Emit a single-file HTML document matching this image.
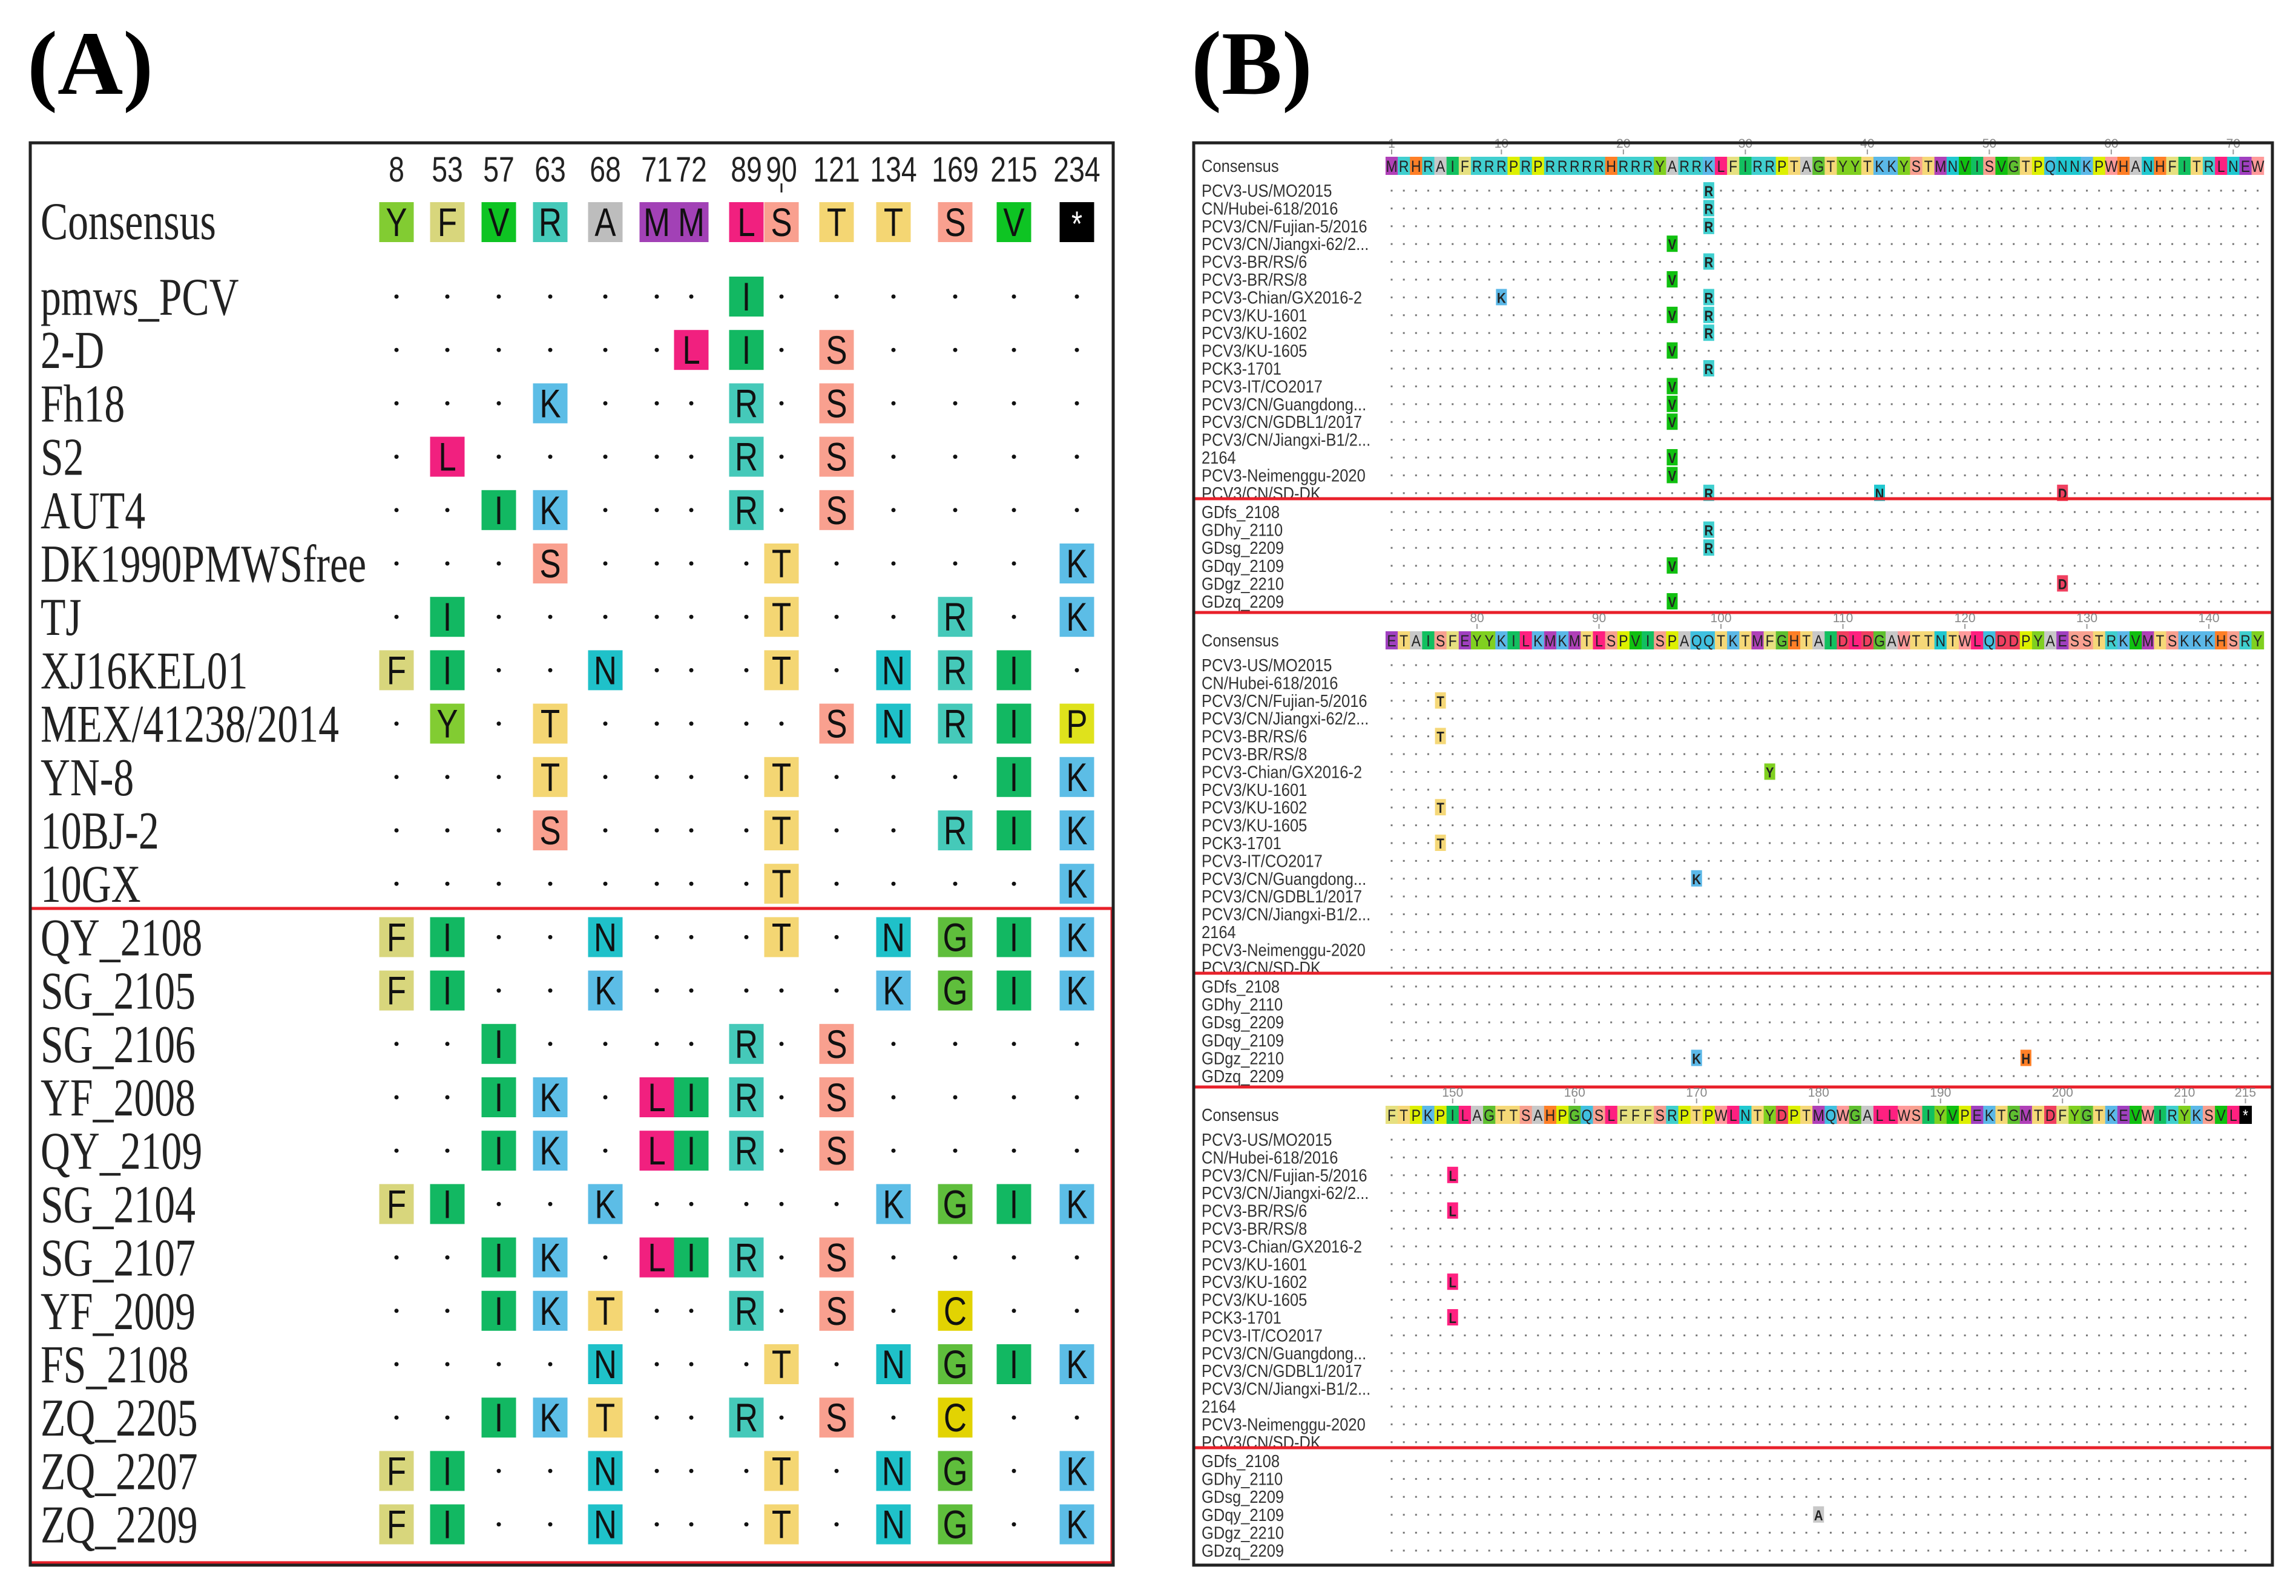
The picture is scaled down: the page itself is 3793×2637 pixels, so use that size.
<!DOCTYPE html>
<html><head><meta charset="utf-8"><style>
html,body{margin:0;padding:0;background:#fff;}
svg{display:block;}
</style></head><body>
<svg id="fig" xmlns="http://www.w3.org/2000/svg" width="3793" height="2637" viewBox="0 0 3793 2637">
<rect width="3793" height="2637" fill="#fff"/>
<text x="45" y="155" font-family="Liberation Serif, serif" font-weight="bold" font-size="150">(A)</text>
<text x="1968" y="155" font-family="Liberation Serif, serif" font-weight="bold" font-size="150">(B)</text>
<g id="pa"></g>
<g id="pb"></g>
<rect x="50" y="236" width="1789" height="2350" fill="none" stroke="#222" stroke-width="5"/>
<rect x="1972" y="236" width="1782" height="2350" fill="none" stroke="#222" stroke-width="5"/>
</svg>
<script>
// ---- Panel A data ----
const aPositions = ["8","53","57","63","68","71","72","89","90","121","134","169","215","234"];
const aConsensus = ["Y","F","V","R","A","M","M","L","S","T","T","S","V","*"];
const aNames = ["pmws_PCV","2-D","Fh18","S2","AUT4","DK1990PMWSfree","TJ","XJ16KEL01","MEX/41238/2014","YN-8","10BJ-2","10GX","QY_2108","SG_2105","SG_2106","YF_2008","QY_2109","SG_2104","SG_2107","YF_2009","FS_2108","ZQ_2205","ZQ_2207","ZQ_2209"];
const aRows = [
"·······I······","······LI·S····","···K···R·S····","·L·····R·S····","··IK···R·S····","···S····T····K",
"·I······T··R·K","FI··N···T·NRI·","·Y·T·····SNRIP","···T····T···IK","···S····T··RIK","········T····K",
"FI··N···T·NGIK","FI··K·····KGIK","··I····R·S····","··IK·LIR·S····","··IK·LIR·S····","FI··K·····KGIK",
"··IK·LIR·S····","··IKT··R·S·C··","····N···T·NGIK","··IKT··R·S·C··","FI··N···T·NG·K","FI··N···T·NG·K"];
// ---- Panel B data ----
const bBlockStart = [1, 73, 145];
const bConsensus = [
"MRHRAIFRRRPRPRRRRRHRRRYARRKLFIRRPTAGTYYTKKYSTMNVISVGTPQNNKPWHANHFITRLNEW",
"ETAISFEYYKILKMKMTLSPVISPAQQTKTMFGHTAIDLDGAWTTNTWLQDDPYAESSTRKVMTSKKKHSRY",
"FTPKPILAGTTSAHPGQSLFFFSRPTPWLNTYDPTMQWGALLWSIYVPEKTGMTDFYGTKEVWIRYKSVL*"];
const bTicks = [[1,10,20,30,40,50,60,70],[80,90,100,110,120,130,140],[150,160,170,180,190,200,210,215]];
const bTopNames = ["PCV3-US/MO2015","CN/Hubei-618/2016","PCV3/CN/Fujian-5/2016","PCV3/CN/Jiangxi-62/2...","PCV3-BR/RS/6","PCV3-BR/RS/8","PCV3-Chian/GX2016-2","PCV3/KU-1601","PCV3/KU-1602","PCV3/KU-1605","PCK3-1701","PCV3-IT/CO2017","PCV3/CN/Guangdong...","PCV3/CN/GDBL1/2017","PCV3/CN/Jiangxi-B1/2...","2164","PCV3-Neimenggu-2020","PCV3/CN/SD-DK"];
const bBottomNames = ["GDfs_2108","GDhy_2110","GDsg_2209","GDqy_2109","GDgz_2210","GDzq_2209"];
// mutations: [group(0 top,1 bottom), row, position, residue]
const bMutations = [
[0,0,27,"R"],[0,1,27,"R"],[0,2,27,"R"],[0,3,24,"V"],[0,4,27,"R"],[0,5,24,"V"],[0,6,10,"K"],[0,6,27,"R"],
[0,7,24,"V"],[0,7,27,"R"],[0,8,27,"R"],[0,9,24,"V"],[0,10,27,"R"],[0,11,24,"V"],[0,12,24,"V"],[0,13,24,"V"],
[0,15,24,"V"],[0,16,24,"V"],[0,17,27,"R"],[0,17,41,"N"],[0,17,56,"D"],
[1,1,27,"R"],[1,2,27,"R"],[1,3,24,"V"],[1,4,56,"D"],[1,5,24,"V"],
[0,2,77,"T"],[0,4,77,"T"],[0,8,77,"T"],[0,10,77,"T"],[0,6,104,"Y"],[0,12,98,"K"],[1,4,98,"K"],[1,4,125,"H"],
[0,2,150,"L"],[0,4,150,"L"],[0,8,150,"L"],[0,10,150,"L"],[1,3,180,"A"]];

const NS="http://www.w3.org/2000/svg";
function mk(parent, tag, attrs, txt){const e=document.createElementNS(NS,tag);for(const k in attrs)e.setAttribute(k,attrs[k]);if(txt!==undefined)e.textContent=txt;parent.appendChild(e);return e;}
const aColors={I:"#12b862",K:"#5cbde6",R:"#45c9b9",S:"#f9a08f",L:"#f1207f",T:"#f4d673",N:"#1fc1c9",Y:"#82cc32",F:"#d8d67c",G:"#5fbe3c",C:"#e2d302",P:"#dfe21c",V:"#0ec423",A:"#bdbdbd",M:"#a241b6","*":"#000"};
const bColors={M:"#b040b8",R:"#40cfcf",H:"#ff7f27",A:"#c8c8c8",I:"#12c060",F:"#e6e080",P:"#ddf000",Y:"#80d020",K:"#5bb8e8",L:"#ff2080",T:"#f5d878",G:"#5fc030",S:"#f8a090",N:"#20c8d0",V:"#10c010",Q:"#40c0e0",W:"#ff9a9a",E:"#a040c0",D:"#f04060",C:"#e0d000","*":"#000"};

// ---- Panel A ----
const pa=document.getElementById('pa');
const aX=[655,739,824,909,1000,1085,1142,1233,1291,1382,1476,1578,1675,1779];
const aRow0=490, aDy=88.2, aCw=57, aCh=66;
function colX(i){return aX[i];}
function rowY(r){return aRow0+r*aDy;}
aPositions.forEach((p,i)=>{
  const t=mk(pa,'text',{x:0,y:0,transform:`translate(${colX(i)},300) scale(0.8,1)`,'text-anchor':'middle','font-family':'Liberation Sans, sans-serif','font-size':58,fill:'#222'},p);
  
  
});
mk(pa,'line',{x1:1291,y1:303,x2:1291,y2:318,stroke:'#222','stroke-width':3});
function aCell(i,y,ch,name){
  if(ch==="·"){
    const d=mk(pa,'circle',{cx:colX(i),cy:y,r:3.5,fill:'#111'});
    
    
    return;
  }
  const g=mk(pa,'g',{});
  
  
  mk(g,'rect',{x:colX(i)-aCw/2,y:y-aCh/2,width:aCw,height:aCh,fill:aColors[ch]||'#ccc'});
  mk(g,'text',{x:0,y:0,transform:`translate(${colX(i)},${y+23}) scale(0.8,1)`,'text-anchor':'middle','font-family':'Liberation Sans, sans-serif','font-size':ch==="*"?58:66,fill:ch==="*"?'#fff':'#111'},ch);
}
const ct=mk(pa,'text',{x:0,y:0,transform:'translate(67,395) scale(0.77,1)','font-family':'Liberation Serif, serif','font-size':88,fill:'#222'},'Consensus');


aConsensus.forEach((c,i)=>aCell(i,367,c,'consensus-'+aPositions[i]));
aNames.forEach((n,r)=>{
  const y=rowY(r);
  const t=mk(pa,'text',{x:0,y:0,transform:`translate(67,${y+30}) scale(0.77,1)`,'font-family':'Liberation Serif, serif','font-size':88,fill:'#222'},n);
  
  
  [...aRows[r]].forEach((ch,i)=>aCell(i,y,ch,'residue-'+n+'-'+aPositions[i]));
});
const ab=mk(pa,'rect',{x:50,y:1501,width:1787,height:1081,fill:'none',stroke:'#e8202a','stroke-width':5});



// ---- Panel B ----
const pb=document.getElementById('pb');
const bX0=2299, bCw=20.15, bOff=784;
function bx(block,pos){return bX0+(pos-bBlockStart[block])*bCw;}
function bTopY(block,r){return 315+r*29.4+block*bOff;}
function bBotY(block,r){return 846+r*29.6+block*bOff;}
const fam='Liberation Sans, sans-serif';
bConsensus.forEach((seq,b)=>{
  const yC=274+b*bOff;
  bTicks[b].forEach(tk=>{
    const x=bx(b,tk);
    const t=mk(pb,'text',{x:x,y:yC-30,'text-anchor':'middle','font-family':fam,'font-size':21,fill:'#888'},String(tk));
    
    
    mk(pb,'line',{x1:x,y1:yC-27,x2:x,y2:yC-19,stroke:'#999','stroke-width':2});
  });
  const cl=mk(pb,'text',{x:0,y:0,transform:`translate(1985,${yC+10}) scale(0.88,1)`,'font-family':fam,'font-size':29,fill:'#333'},'Consensus');
  
  
  [...seq].forEach((ch,i)=>{
    const x=bx(b,bBlockStart[b]+i);
    mk(pb,'rect',{x:x-bCw/2,y:yC-15,width:bCw+0.5,height:30,fill:bColors[ch]||'#ddd'});
    mk(pb,'text',{x:0,y:0,transform:`translate(${x},${yC+10}) scale(0.85,1)`,'text-anchor':'middle','font-family':fam,'font-size':27,fill:ch==="*"?'#fff':'#222'},ch);
  });
  const n=seq.length;
  const drawRow=(name,y,grp,r)=>{
    const t=mk(pb,'text',{x:0,y:0,transform:`translate(1985,${y+10}) scale(0.88,1)`,'font-family':fam,'font-size':29,fill:'#333'},name);
    
    
    const muts=bMutations.filter(m=>m[0]===grp&&m[1]===r&&m[2]>=bBlockStart[b]&&m[2]<bBlockStart[b]+n);
    for(let i=0;i<n;i++){
      const pos=bBlockStart[b]+i;
      if(muts.some(m=>m[2]===pos))continue;
      mk(pb,'rect',{x:bx(b,pos)-1.5,y:y-1.5,width:3,height:3,fill:'#777'});
    }
    muts.forEach(m=>{
      const x=bx(b,m[2]);
      const g=mk(pb,'g',{});
      
      
      mk(g,'rect',{x:x-9,y:y-14,width:18,height:27,fill:bColors[m[3]]||'#ccc'});
      mk(g,'text',{x:0,y:0,transform:`translate(${x},${y+9}) scale(0.85,1)`,'text-anchor':'middle','font-family':fam,'font-size':24,'font-weight':'bold',fill:'#222'},m[3]);
    });
  };
  bTopNames.forEach((nm,r)=>drawRow(nm,bTopY(b,r),0,r));
  bBottomNames.forEach((nm,r)=>drawRow(nm,bBotY(b,r),1,r));
  const rb=mk(pb,'rect',{x:1972,y:824+b*bOff,width:1782,height:188,fill:'none',stroke:'#e8202a','stroke-width':5});
  if(b===2){rb.setAttribute('height',2586-(824+b*bOff));}
  
  
});
</script>
</body></html>
